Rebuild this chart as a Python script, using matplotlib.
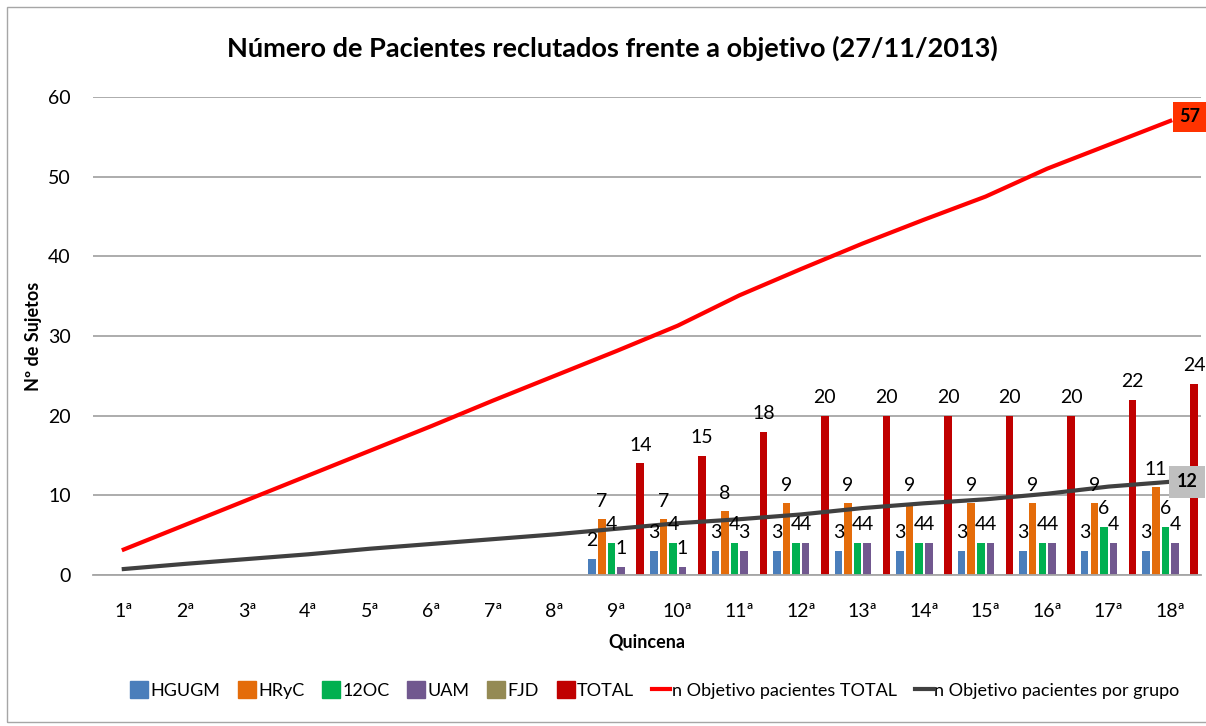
"""
Número de pacientes reclutados frente a objetivo (27/11/2013).
Grouped bars per hospital + total, with objective lines.
"""
import numpy as np
import matplotlib
matplotlib.use("Agg")
import matplotlib.pyplot as plt
from matplotlib.patches import Rectangle
from matplotlib.lines import Line2D
from matplotlib.patches import Patch

plt.rcParams["font.family"] = ["Lato", "DejaVu Sans"]

# --- data ---
quincenas = ["1ª", "2ª", "3ª", "4ª", "5ª", "6ª", "7ª", "8ª", "9ª",
             "10ª", "11ª", "12ª", "13ª", "14ª", "15ª", "16ª", "17ª", "18ª"]
nan = np.nan
hgugm = [nan] * 8 + [2, 3, 3, 3, 3, 3, 3, 3, 3, 3]
hryc = [nan] * 8 + [7, 7, 8, 9, 9, 9, 9, 9, 9, 11]
oc12 = [nan] * 8 + [4, 4, 4, 4, 4, 4, 4, 4, 6, 6]
uam = [nan] * 8 + [1, 1, 3, 4, 4, 4, 4, 4, 4, 4]
fjd = [nan] * 8 + [0, 0, 0, 0, 0, 0, 0, 0, 0, 0]
total = [nan] * 8 + [14, 15, 18, 20, 20, 20, 20, 20, 22, 24]
obj_total = [3.2, 6.3, 9.4, 12.5, 15.6, 18.7, 21.9, 25.0, 28.1,
             31.3, 35.1, 38.4, 41.6, 44.6, 47.5, 51.0, 54.0, 57.0]
obj_grupo = [0.75, 1.4, 2.0, 2.6, 3.3, 3.9, 4.5, 5.1, 5.8,
             6.5, 7.0, 7.6, 8.4, 9.0, 9.5, 10.2, 11.1, 11.7]

series = [("HGUGM", hgugm, "#4A7EBB"), ("HRyC", hryc, "#E46C0A"),
          ("12OC", oc12, "#00B050"), ("UAM", uam, "#71588F"),
          ("FJD", fjd, "#948A54"), ("TOTAL", total, "#C00000")]

fig = plt.figure(figsize=(12.06, 7.26), dpi=100)
ax = fig.add_axes([93 / 1206, 1 - 575 / 726, (1201 - 93) / 1206, (575 - 97) / 726])

# outer chart border
fig.add_artist(Rectangle((7 / 1206, 0.005), 1.2, 1 - 7 / 726 - 0.005, transform=fig.transFigure,
                         fill=False, edgecolor="#A6A6A6", lw=1))

x = np.arange(len(quincenas))
step = 0.156
width = 0.122
for i, (name, vals, col) in enumerate(series):
    pos = x + (i - 2.5) * step
    v = np.array(vals, dtype=float)
    ax.bar(pos, v, width=width, color=col, zorder=2)
    if name == "FJD":
        continue
    for xi, vi in zip(pos, v):
        if np.isnan(vi):
            continue
        ax.annotate(f"{int(vi)}", (xi, vi), xytext=(0, 7), textcoords="offset points",
                    ha="center", va="bottom", fontsize=14, color="black", zorder=4)

ax.plot(x, obj_total, color="#FF0000", lw=3, zorder=3)
ax.plot(x, obj_grupo, color="#404040", lw=3, zorder=3)

# end labels on objective lines
ax.annotate(f"{obj_total[-1]:.0f}", (x[-1], obj_total[-1]), xytext=(14, 3), textcoords="offset points",
            ha="center", va="center", fontsize=13, fontweight="bold",
            bbox=dict(boxstyle="square,pad=0.35", fc="#FF3300", ec="none"), zorder=5)
ax.annotate(f"{round(obj_grupo[-1]):.0f}", (x[-1], obj_grupo[-1]), xytext=(12, 0), textcoords="offset points",
            ha="center", va="center", fontsize=13, fontweight="bold",
            bbox=dict(boxstyle="square,pad=0.4", fc="#BFBFBF", ec="none"), zorder=5)

ax.set_xlim(-0.5, len(quincenas) - 0.5)
ax.set_ylim(0, 60)
ax.set_yticks(range(0, 61, 10))
ax.set_xticks(x)
ax.set_xticklabels(quincenas)
ax.tick_params(axis="both", length=0, labelsize=14)
ax.tick_params(axis="x", pad=20)
ax.tick_params(axis="y", pad=16)
ax.yaxis.grid(True, color="#A6A6A6", lw=1.3, zorder=0)
ax.set_axisbelow(True)
for s in ["top", "right", "left"]:
    ax.spines[s].set_visible(False)
ax.spines["bottom"].set_color("#A6A6A6")
ax.spines["bottom"].set_linewidth(1.3)

ax.set_xlabel("Quincena", fontsize=13, fontweight="bold", labelpad=10)
ax.set_ylabel("Nº de Sujetos", fontsize=13, fontweight="bold", labelpad=4)
fig.text(612 / 1206, 1 - 48 / 726, "Número de Pacientes reclutados frente a objetivo (27/11/2013)",
         ha="center", va="center", fontsize=19.5, fontweight="bold")

handles = [Patch(color=c, label=n) for n, _, c in series]
handles += [Line2D([], [], color="#FF0000", lw=3, label="n Objetivo pacientes TOTAL"),
            Line2D([], [], color="#404040", lw=3, label="n Objetivo pacientes por grupo")]
fig.legend(handles=handles, loc="center", bbox_to_anchor=(655 / 1206, 1 - 690 / 726), ncol=8,
           frameon=False, fontsize=13, handlelength=1.0, handleheight=1.0,
           handletextpad=0.1, columnspacing=1.0)

plt.savefig("out.png", dpi=100)
plt.close()
